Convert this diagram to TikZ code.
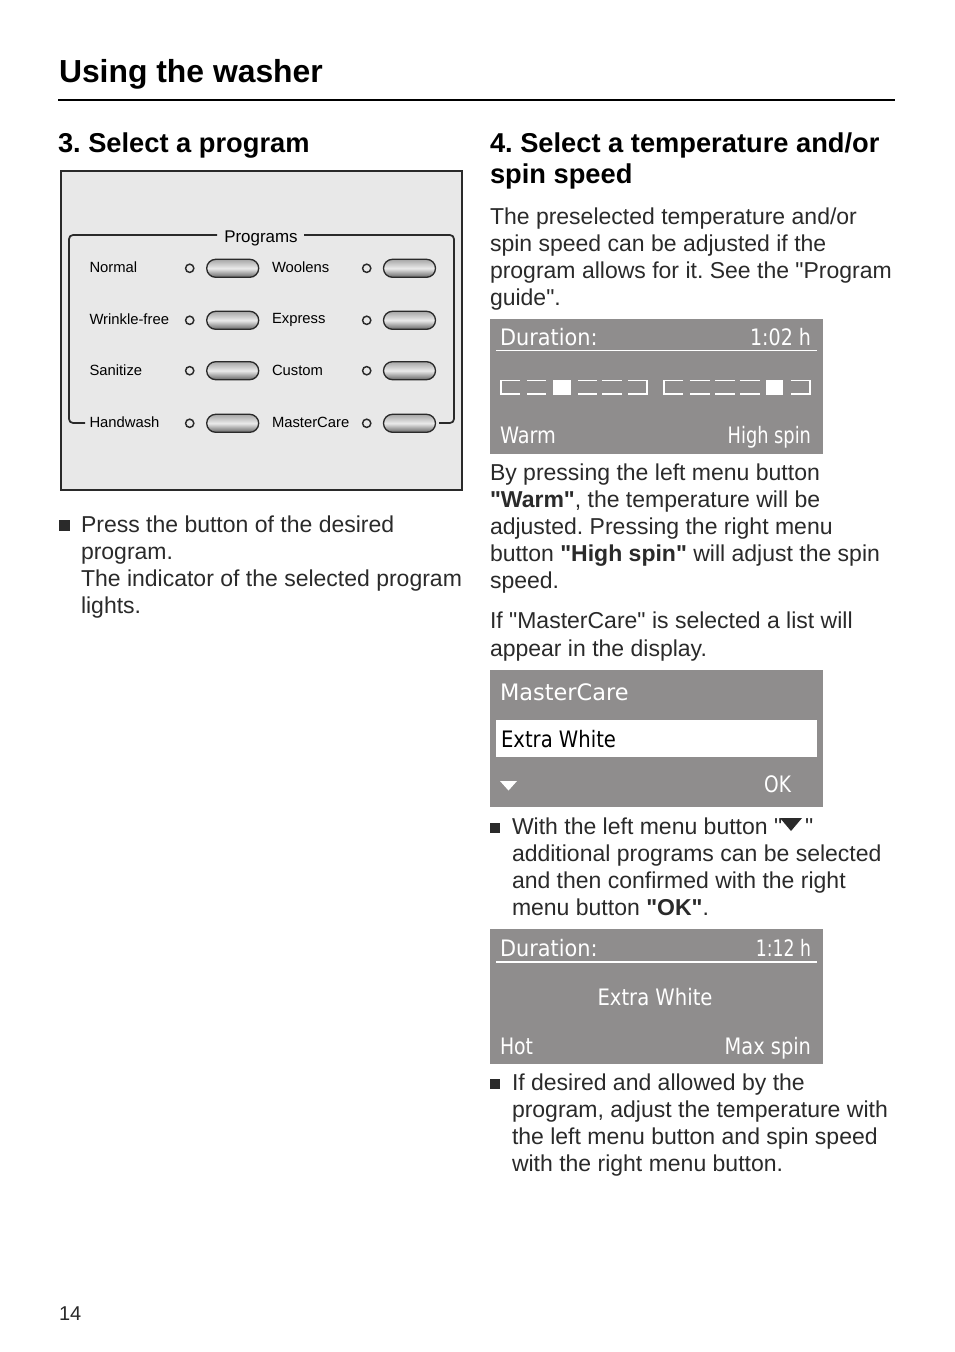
\documentclass[tikz,border=0pt]{standalone}
\usepackage{fontspec}
\setmainfont{Liberation Sans}[Ligatures=TeXOff]
\newfontfamily\dispfont{DejaVu Sans}
\definecolor{ink}{HTML}{2A2A2A}
\definecolor{panel}{HTML}{E8E8E8}
\definecolor{lcd}{HTML}{8F8D8D}
\usetikzlibrary{shapes.misc}
\newcommand\dsp[2]{\scalebox{#1}[1]{#2}}
\tikzset{
 tl/.style={anchor=base west,inner sep=0pt,outer sep=0pt,yshift=0.75pt,text=ink,font=\fontsize{17.25}{22}\selectfont},
 hd/.style={anchor=base west,inner sep=0pt,outer sep=0pt,text=black,font=\fontsize{20.45}{25}\selectfont\bfseries},
 lab/.style={anchor=base west,inner sep=0pt,outer sep=0pt,text=black,font=\fontsize{11.1}{13}\selectfont},
 lcdtxt/.style={inner sep=0pt,outer sep=0pt,text=white,font=\dispfont\fontsize{17}{20}\selectfont},
 lcdl/.style={lcdtxt,anchor=base west},
 lcdr/.style={lcdtxt,anchor=base east},
 lcdbox/.style={fill=lcd,draw=none},
 seg/.style={draw=white,line width=1.3pt},
 led/.style={circle,draw=ink,line width=1.1pt,fill=panel,minimum size=6.2pt,inner sep=0pt},
 btn/.style={rounded rectangle,draw=ink,line width=1pt,minimum width=39pt,minimum height=13.5pt,inner sep=0pt,top color=black!35,bottom color=black!60,middle color=black!8},
 bul/.style={fill=ink,draw=none}
}
\frenchspacing
\begin{document}
\begin{tikzpicture}[x=0.75pt,y=-0.75pt]
\useasboundingbox (0,0) rectangle (954,1352);
\fill[white] (0,0) rectangle (954,1352);
% header
\node[hd,font=\fontsize{23.9}{28}\selectfont\bfseries] (title) at (59,83) {Using the washer};
\draw[line width=1.5pt,black] (58,100) -- (895,100);
\node[hd] (h3) at (58,152) {3. Select a program};
\node[hd] (h4a) at (490,152) {4. Select a temperature and/or};
\node[hd] (h4b) at (490,184) {spin speed};
% control panel
\draw[fill=panel,draw=ink,line width=1.5pt] (60.5,171) rectangle (462,490);
\coordinate (brA) at (85,423);
\coordinate (brB) at (217,235);
\coordinate (brC) at (304,235);
\coordinate (brD) at (439,423);
\draw[ink,line width=1.3pt,rounded corners=3pt] (brA) -- (69,423) -- (69,235) -- (brB);
\draw[ink,line width=1.3pt,rounded corners=3pt] (brC) -- (454,235) -- (454,423) -- (brD);
\node[lab,anchor=base,font=\fontsize{12.7}{15}\selectfont] (prog) at (261,242) {Programs};
\foreach \n/\yy/\lb/\ya/\rb/\yb in {a/268.3/Normal/272/Woolens/272,b/320.3/Wrinkle-free/324/Express/323.5,c/370.7/Sanitize/375/Custom/375,d/423.3/Handwash/427/MasterCare/427}{
 \node[lab] (l\n) at (89.5,\ya) {\lb};
 \node[lab] (r\n) at (272,\yb) {\rb};
 \node[led] (led\n) at (189.7,\yy) {};
 \node[led] (ler\n) at (366.7,\yy) {};
 \node[btn] (bl\n) at (232.7,\yy) {};
 \node[btn] (br\n) at (409.5,\yy) {};
}
% left text
\fill[bul] (59,520) rectangle (70,531);
\node[tl] (a1) at (81,533) {Press the button of the desired};
\node[tl] (a2) at (81,560) {program.};
\node[tl] (a3) at (81,587) {The indicator of the selected program};
\node[tl] (a4) at (81,614) {lights.};
% right text
\node[tl] (b1) at (490,225) {The preselected temperature and/or};
\node[tl] (b2) at (490,252) {spin speed can be adjusted if the};
\node[tl] (b3) at (490,279) {program allows for it. See the "Program};
\node[tl] (b4) at (490,306) {guide".};
% display 1
\fill[lcdbox] (490,319) rectangle (823,454);
\node[lcdl] (d1a) at (500,345) {\dsp{.92}{Duration:}};
\node[lcdr] (d1b) at (811,345) {\dsp{.84}{1:02 h}};
\draw[white,line width=1.2pt] (496,350.5) -- (817,350.5);
\foreach \a/\b in {527/546,578/597,602/622,690/710,715/735,740/760}{
 \draw[seg] (\a,380.5) -- (\b,380.5) (\a,394) -- (\b,394);
}
\draw[seg] (520,380.5) -- (500.7,380.5) -- (500.7,394) -- (520,394);
\draw[seg] (628,380.5) -- (647.3,380.5) -- (647.3,394) -- (628,394);
\draw[seg] (683,380.5) -- (663.7,380.5) -- (663.7,394) -- (683,394);
\draw[seg] (791,380.5) -- (810.3,380.5) -- (810.3,394) -- (791,394);
\fill[white] (553,379.5) rectangle (571,395);
\fill[white] (766,379.5) rectangle (783,395);
\node[lcdl] (d1c) at (500,443) {\dsp{.85}{Warm}};
\node[lcdr] (d1d) at (811,443) {\dsp{.785}{High spin}};
\node[tl] (c1) at (490,481) {By pressing the left menu button};
\node[tl] (c2) at (490,508) {\textbf{"Warm"}, the temperature will be};
\node[tl] (c3) at (490,535) {adjusted. Pressing the right menu};
\node[tl] (c4) at (490,562) {button \textbf{"High spin"} will adjust the spin};
\node[tl] (c5) at (490,589) {speed.};
\node[tl] (e1) at (490,629) {If "MasterCare" is selected a list will};
\node[tl] (e2) at (490,657) {appear in the display.};
% display 2
\fill[lcdbox] (490,670) rectangle (823,807);
\node[lcdl] (d2a) at (500,700) {\dsp{.99}{MasterCare}};
\fill[white] (496,720) rectangle (817,757);
\node[lcdl,text=black] (d2b) at (501,747) {\dsp{.865}{Extra White}};
\fill[white] (500,781) -- (517,781) -- (508.5,790.5) -- cycle;
\node[lcdr] (d2c) at (791,792) {\dsp{.82}{OK}};
% bullet 2
\fill[bul] (490,823) rectangle (500,833);
\node[tl] (f1) at (512,835) {With the left menu button "};
\fill[ink] (780,818) -- (802,818) -- (791,831) -- cycle;
\node[tl] (f1b) at (805,835) {"};
\node[tl] (f2) at (512,862) {additional programs can be selected};
\node[tl] (f3) at (512,889) {and then confirmed with the right};
\node[tl] (f4) at (512,916) {menu button \textbf{"OK"}.};
% display 3
\fill[lcdbox] (490,929) rectangle (823,1064);
\node[lcdl] (d3a) at (500,956) {\dsp{.92}{Duration:}};
\node[lcdr] (d3b) at (811,956) {\dsp{.76}{1:12 h}};
\draw[white,line width=1.2pt] (496,962) -- (817,962);
\node[lcdtxt,anchor=base] (d3c) at (655,1005) {\dsp{.865}{Extra White}};
\node[lcdl] (d3d) at (500,1054) {\dsp{.83}{Hot}};
\node[lcdr] (d3e) at (811,1054) {\dsp{.855}{Max spin}};
% bullet 3
\fill[bul] (490,1079) rectangle (500,1089);
\node[tl] (g1) at (512,1091) {If desired and allowed by the};
\node[tl] (g2) at (512,1118) {program, adjust the temperature with};
\node[tl] (g3) at (512,1145) {the left menu button and spin speed};
\node[tl] (g4) at (512,1172) {with the right menu button.};
\node[tl,font=\fontsize{15}{18}\selectfont] (pg) at (59,1321) {14};
\end{tikzpicture}
\end{document}
